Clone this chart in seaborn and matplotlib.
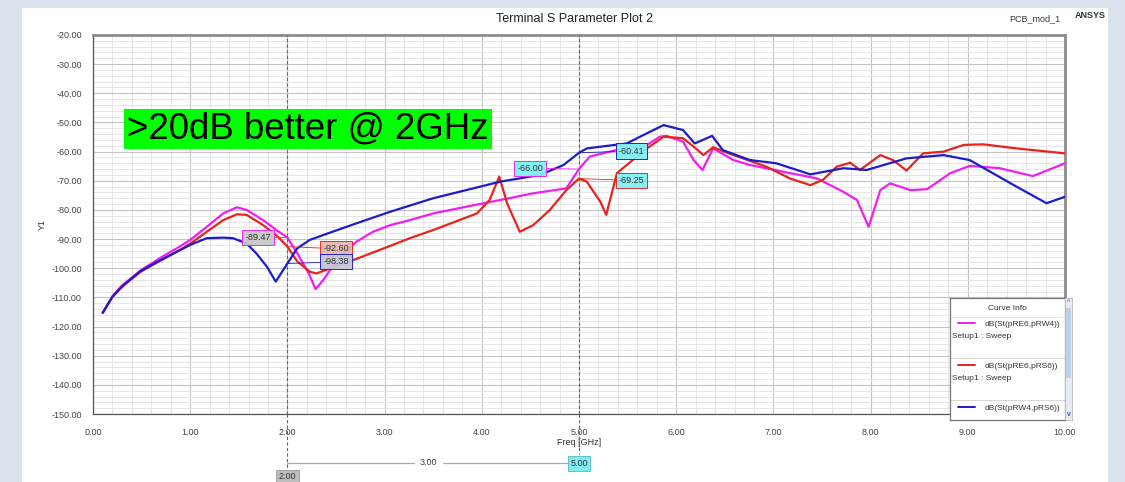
import numpy as np
import pandas as pd
import matplotlib
matplotlib.use("Agg")
import matplotlib.pyplot as plt
import matplotlib.patches as mpatches
from matplotlib.ticker import MultipleLocator, FormatStrFormatter
import seaborn as sns

# ---- data: S-parameter traces (Freq in GHz, magnitude in dB) ----
freq_re6_rw4 = [0.1, 0.2, 0.3, 0.5, 0.7, 0.9, 1.0, 1.17, 1.34, 1.48, 1.58, 1.75, 1.89, 2.0, 2.1,
                2.22, 2.29, 2.37, 2.44, 2.58, 2.71, 2.88, 3.06, 3.26, 3.5, 3.84, 4.19, 4.53, 4.87,
                4.94, 5.0, 5.11, 5.39, 5.7, 5.83, 5.9, 6.07, 6.18, 6.27, 6.38, 6.59, 6.76, 7.1,
                7.45, 7.72, 7.86, 7.98, 8.1, 8.2, 8.41, 8.58, 8.82, 9.02, 9.33, 9.67, 10.0]
db_re6_rw4 = [-115.3, -109.6, -105.8, -100.5, -96.3, -92.4, -90.3, -85.8, -81.2, -79.1, -80.0,
              -83.5, -87.0, -89.47, -94.8, -101.8, -107.2, -104.0, -100.6, -94.9, -90.9, -87.5,
              -85.2, -83.5, -81.2, -78.9, -76.6, -74.3, -72.6, -69.0, -66.00, -61.7, -59.4,
              -57.7, -54.9, -54.6, -56.6, -62.9, -66.3, -58.9, -62.9, -64.6, -66.9, -69.2,
              -73.8, -76.6, -85.8, -73.2, -70.9, -73.2, -72.9, -67.4, -64.9, -65.7, -68.4, -64.0]

freq_re6_rs6 = [0.1, 0.2, 0.3, 0.5, 0.7, 0.9, 1.0, 1.17, 1.34, 1.48, 1.58, 1.75, 1.89, 2.0, 2.1,
                2.23, 2.3, 2.44, 2.71, 3.06, 3.26, 3.5, 3.95, 4.08, 4.18, 4.26, 4.39, 4.53, 4.7,
                4.87, 5.0, 5.08, 5.22, 5.28, 5.39, 5.49, 5.7, 5.87, 6.07, 6.18, 6.28, 6.38, 6.59,
                6.93, 7.17, 7.38, 7.51, 7.65, 7.79, 7.89, 8.1, 8.23, 8.37, 8.54, 8.75, 8.96,
                9.16, 9.5, 10.0]
db_re6_rs6 = [-115.3, -109.8, -106.2, -101.0, -97.3, -93.6, -91.6, -87.5, -83.5, -81.5, -81.7,
              -85.2, -88.8, -92.60, -97.6, -101.2, -101.8, -100.0, -96.8, -92.3, -89.7, -86.9,
              -81.2, -76.6, -68.6, -77.7, -87.5, -85.2, -80.0, -73.2, -69.25, -70.3, -77.2,
              -81.7, -67.4, -64.6, -58.9, -54.9, -55.4, -58.3, -61.2, -58.5, -61.2, -65.2,
              -69.2, -71.5, -69.7, -65.2, -63.8, -66.3, -61.2, -62.9, -66.5, -60.6, -60.0,
              -57.7, -57.5, -58.9, -60.6]

freq_rw4_rs6 = [0.1, 0.2, 0.3, 0.48, 0.66, 0.83, 1.0, 1.17, 1.34, 1.44, 1.58, 1.68, 1.79, 1.88,
                2.0, 2.1, 2.23, 2.37, 2.71, 3.06, 3.5, 3.84, 4.19, 4.6, 4.84, 5.0, 5.08, 5.49,
                5.7, 5.87, 6.07, 6.19, 6.37, 6.48, 6.76, 7.03, 7.38, 7.72, 7.96, 8.37, 8.75,
                9.02, 9.5, 9.81, 10.0]
db_rw4_rs6 = [-115.3, -109.8, -106.3, -101.2, -97.8, -94.9, -92.0, -89.7, -89.5, -89.7, -91.5,
              -94.9, -99.5, -104.6, -98.38, -93.2, -90.3, -88.6, -84.6, -80.6, -76.0, -73.2,
              -70.3, -68.0, -64.6, -60.41, -58.9, -57.2, -53.7, -50.9, -52.6, -57.2, -54.6,
              -59.5, -62.9, -64.0, -67.8, -65.7, -66.3, -62.3, -61.2, -62.9, -72.0, -77.7, -75.5]

trace_names = ["dB(St(pRE6,pRW4))", "dB(St(pRE6,pRS6))", "dB(St(pRW4,pRS6))"]
trace_colors = ["#f01ef0", "#e8231e", "#1c1ccc"]

# marker readouts at 2 GHz and 5 GHz (same order as trace_names)
marker_freqs = [2.0, 5.0]
marker_2ghz = [-89.47, -92.60, -98.38]
marker_5ghz = [-66.00, -69.25, -60.41]

df = pd.concat([
    pd.DataFrame({"Freq": freq_re6_rw4, "dB": db_re6_rw4, "trace": trace_names[0]}),
    pd.DataFrame({"Freq": freq_re6_rs6, "dB": db_re6_rs6, "trace": trace_names[1]}),
    pd.DataFrame({"Freq": freq_rw4_rs6, "dB": db_rw4_rs6, "trace": trace_names[2]}),
], ignore_index=True)

sns.set_style("white")
plt.rcParams["font.family"] = ["Liberation Sans Narrow", "Liberation Sans", "DejaVu Sans"]

W, H = 1125, 482
fig = plt.figure(figsize=(W / 100, H / 100), dpi=100)
fig.patch.set_facecolor("#dae3eb")

# white report panel behind everything
fig.patches.append(mpatches.Rectangle((22 / W, 0), (1108 - 22) / W, 1 - 8 / H,
                                      transform=fig.transFigure, facecolor="white",
                                      edgecolor="none", zorder=-5))

ax = fig.add_axes([93 / W, 1 - 414 / H, (1065 - 93) / W, (414 - 35) / H])
ax.set_facecolor("white")

sns.lineplot(data=df, x="Freq", y="dB", hue="trace", palette=dict(zip(trace_names, trace_colors)),
             hue_order=trace_names, sort=False, estimator=None, legend=False, linewidth=1.6,
             ax=ax, zorder=5)

ax.set_xlim(0, 10)
ax.set_ylim(-150, -20)
ax.xaxis.set_major_locator(MultipleLocator(1))
ax.xaxis.set_minor_locator(MultipleLocator(0.2))
ax.yaxis.set_major_locator(MultipleLocator(10))
ax.yaxis.set_minor_locator(MultipleLocator(2))
ax.xaxis.set_major_formatter(FormatStrFormatter("%.2f"))
ax.yaxis.set_major_formatter(FormatStrFormatter("%.2f"))
ax.grid(which="major", color="#c4c4c4", linewidth=0.8)
ax.grid(which="minor", color="#e2e2e2", linewidth=0.6)
ax.set_axisbelow(True)
ax.tick_params(axis="both", which="major", labelsize=6.5, labelcolor="#444444", color="#555555",
               length=5, width=0.8, pad=3)
ax.tick_params(axis="both", which="minor", color="#555555", length=3, width=0.6)
ax.tick_params(axis="x", which="both", direction="in", pad=10)
ax.tick_params(axis="y", which="both", direction="out")
for side in ["left", "bottom"]:
    ax.spines[side].set_color("#555555")
    ax.spines[side].set_linewidth(0.9)
for side in ["top", "right"]:
    ax.spines[side].set_color("#8c8c8c")
    ax.spines[side].set_linewidth(2.0)

ax.set_xlabel("Freq [GHz]", fontsize=6.5, color="#333333", labelpad=1)
ax.set_ylabel("Y1", fontsize=6.5, color="#333333", labelpad=3)

# marker lines
for mf in marker_freqs:
    ax.axvline(mf, color="#666666", linestyle=(0, (3, 2)), linewidth=0.8, zorder=3)
trans = ax.get_xaxis_transform()
ax.plot([2, 2], [0, -0.155], transform=trans, color="#666666", linestyle=(0, (3, 2)),
        linewidth=0.8, clip_on=False)
ax.plot([5, 5], [0, -0.105], transform=trans, color="#666666", linestyle=(0, (3, 2)),
        linewidth=0.8, clip_on=False)

# delta-marker readout below the axis
ax.plot([2, 3.3], [-0.129, -0.129], transform=trans, color="#aaaaaa", linewidth=0.9, clip_on=False)
ax.plot([3.6, 4.93], [-0.129, -0.129], transform=trans, color="#aaaaaa", linewidth=0.9, clip_on=False)
ax.text(3.45, -0.129, "%.2f" % (marker_freqs[1] - marker_freqs[0]), transform=trans, fontsize=6.5,
        color="#444444", ha="center", va="center")
ax.text(5.0, -0.131, "%.2f" % marker_freqs[1], transform=trans, fontsize=6.5, color="#333333",
        ha="center", va="center",
        bbox=dict(boxstyle="square,pad=0.3", facecolor="#7eecf0", edgecolor="#55b8c0", linewidth=0.6))
ax.text(2.0, -0.166, "%.2f" % marker_freqs[0], transform=trans, fontsize=6.5, color="#333333",
        ha="center", va="center",
        bbox=dict(boxstyle="square,pad=0.3", facecolor="#bdbdbd", edgecolor="#999999", linewidth=0.6))

# marker value tags: (x offset, tag y, face colour), same order as trace_names
tag_2ghz = [(-0.3, -89.47, "#c8c8c8"), (0.5, -93.3, "#e4b8b0"), (0.5, -97.8, "#c4c8d8")]
tag_5ghz = [(-0.5, -65.7, "#80f0f4"), (0.54, -69.85, "#80f0f4"), (0.54, -59.8, "#80f0f4")]
for i in range(3):
    for mf, vals, tags in [(2.0, marker_2ghz, tag_2ghz), (5.0, marker_5ghz, tag_5ghz)]:
        dx, ty, fc = tags[i]
        ax.annotate("%.2f" % vals[i], xy=(mf, vals[i]), xytext=(mf + dx, ty),
                    fontsize=6.5, color="#333333", ha="center", va="center", zorder=8,
                    bbox=dict(boxstyle="square,pad=0.35", facecolor=fc, edgecolor=trace_colors[i],
                              linewidth=0.7, alpha=0.95),
                    arrowprops=dict(arrowstyle="-", color=trace_colors[i], linewidth=0.6,
                                    shrinkA=0, shrinkB=0))

# callout
fig.text(127 / W, 1 - 129 / H, ">20dB better @ 2GHz", fontsize=26.4, color="black",
         family=["Liberation Sans", "DejaVu Sans"], ha="left", va="center",
         bbox=dict(boxstyle="square,pad=0.08", facecolor="#00ff00", edgecolor="none"))

# header
fig.text(574 / W, 1 - 19 / H, "Terminal S Parameter Plot 2", fontsize=9, color="#222222",
         ha="center", va="center")
fig.text(1060 / W, 1 - 19 / H, "PCB_mod_1", fontsize=6.5, color="#333333", ha="right", va="center")
fig.text(1075 / W, 1 - 16 / H, "ANSYS", fontsize=6.5, color="#333333", ha="left", va="center",
         fontweight="bold")

# curve info panel
lg = fig.add_axes([950 / W, 1 - 420 / H, 115 / W, 122 / H])
lg.set_xlim(0, 115)
lg.set_ylim(122, 0)
lg.set_xticks([])
lg.set_yticks([])
lg.set_facecolor("white")
for s in lg.spines.values():
    s.set_color("#777777")
    s.set_linewidth(0.9)
lg.text(57, 11, "Curve Info", fontsize=6, color="#333333", ha="center", va="center")
lg.plot([0, 115], [19, 19], color="#e4e4e4", linewidth=0.6)
rows = [25, 67, 109]
for i, y0 in enumerate(rows):
    lg.plot([8, 25], [y0, y0], color=trace_colors[i], linewidth=1.4)
    lg.text(35, y0 + 1, trace_names[i], fontsize=6, color="#333333", ha="left", va="center")
    if i < 2:
        lg.text(2, y0 + 14, "Setup1 : Sweep", fontsize=6, color="#333333", ha="left", va="center")
        lg.plot([0, 115], [y0 + 35, y0 + 35], color="#d0d0d0", linewidth=0.6)

sb = fig.add_axes([1065 / W, 1 - 420 / H, 7 / W, 122 / H])
sb.set_xlim(0, 1)
sb.set_ylim(122, 0)
sb.set_xticks([])
sb.set_yticks([])
sb.set_facecolor("#e8ecf2")
for s in sb.spines.values():
    s.set_color("#aaaaaa")
    s.set_linewidth(0.5)
sb.add_patch(mpatches.Rectangle((0.1, 10), 0.8, 70, facecolor="#bcd0ea", edgecolor="none"))
sb.text(0.5, 4, "^", fontsize=5, color="#3355cc", ha="center", va="center")
sb.text(0.5, 117, "v", fontsize=5, color="#3355cc", ha="center", va="center", fontweight="bold")

fig.savefig("out.png", dpi=100, facecolor=fig.get_facecolor())
